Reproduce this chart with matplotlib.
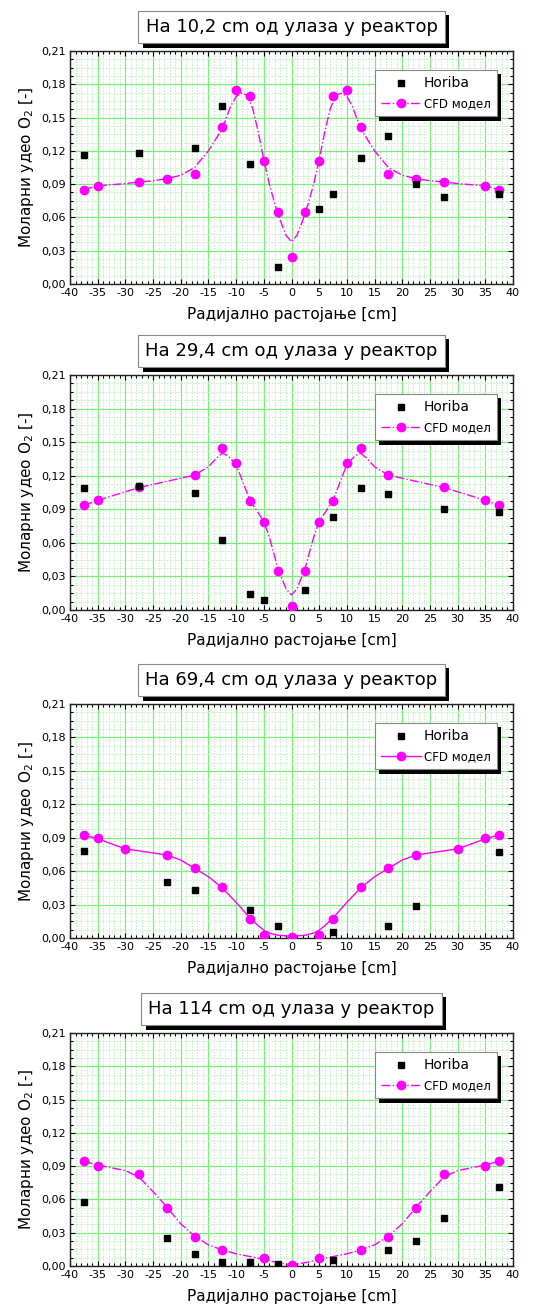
import matplotlib
matplotlib.use("Agg")
import matplotlib.pyplot as plt
from matplotlib.ticker import MultipleLocator, FuncFormatter
from matplotlib.lines import Line2D
import matplotlib.patheffects as pe

plt.rcParams['font.family'] = ['DejaVu Sans']

# ---------------- data ----------------
titles = ["На 10,2 cm од улаза у реактор", "На 29,4 cm од улаза у реактор",
          "На 69,4 cm од улаза у реактор", "На 114 cm од улаза у реактор"]

# Panel 1
p1_cfd_x = [-37.5, -35, -27.5, -22.5, -17.5, -12.5, -10, -7.5, -5, -2.5, 0, 2.5, 5, 7.5, 10, 12.5, 17.5, 22.5, 27.5, 35, 37.5]
p1_cfd_y = [0.085, 0.0885, 0.092, 0.0945, 0.0995, 0.1415, 0.1745, 0.1695, 0.1105, 0.0645, 0.0245,
            0.0645, 0.1105, 0.1695, 0.1745, 0.1415, 0.0995, 0.0945, 0.092, 0.0885, 0.085]
p1_line_x = [-37.5, -35, -30, -27.5, -25, -22.5, -20, -17.5, -15, -12.5, -11, -10, -9, -8, -7, -6, -5, -4, -3, -2, -1, 0,
             1, 2, 3, 4, 5, 6, 7, 8, 9, 10, 11, 12.5, 15, 17.5, 20, 22.5, 25, 27.5, 30, 35, 37.5]
p1_line_y = [0.085, 0.0885, 0.0905, 0.092, 0.093, 0.095, 0.098, 0.105, 0.120, 0.140, 0.160, 0.169, 0.172, 0.170, 0.158, 0.137,
             0.112, 0.090, 0.072, 0.057, 0.044, 0.038,
             0.044, 0.057, 0.072, 0.090, 0.112, 0.137, 0.158, 0.170, 0.172, 0.169, 0.160, 0.140, 0.120, 0.105, 0.098,
             0.095, 0.093, 0.092, 0.0905, 0.0885, 0.085]
p1_hor_x = [-37.5, -27.5, -17.5, -12.5, -7.5, -2.5, 5, 7.5, 12.5, 17.5, 22.5, 27.5, 37.5]
p1_hor_y = [0.116, 0.118, 0.1225, 0.160, 0.1085, 0.015, 0.0675, 0.081, 0.114, 0.133, 0.0905, 0.0785, 0.081]

# Panel 2
p2_cfd_x = [-37.5, -35, -27.5, -17.5, -12.5, -10, -7.5, -5, -2.5, 0, 2.5, 5, 7.5, 10, 12.5, 17.5, 27.5, 35, 37.5]
p2_cfd_y = [0.0935, 0.098, 0.1095, 0.1205, 0.1445, 0.1315, 0.097, 0.079, 0.035, 0.004,
            0.035, 0.079, 0.097, 0.1315, 0.1445, 0.1205, 0.1095, 0.098, 0.0935]
p2_line_x = [-37.5, -35, -27.5, -17.5, -15, -13.5, -12.5, -11.5, -10, -7.5, -5, -4, -2.5, -1, 0,
             1, 2.5, 4, 5, 7.5, 10, 11.5, 12.5, 13.5, 15, 17.5, 27.5, 35, 37.5]
p2_line_y = [0.0935, 0.098, 0.1095, 0.1205, 0.128, 0.136, 0.140, 0.138, 0.130, 0.098, 0.079, 0.065, 0.038, 0.019, 0.0135,
             0.019, 0.038, 0.065, 0.079, 0.098, 0.130, 0.138, 0.140, 0.136, 0.128, 0.1205, 0.1095, 0.098, 0.0935]
p2_hor_x = [-37.5, -27.5, -17.5, -12.5, -7.5, -5, 2.5, 7.5, 12.5, 17.5, 27.5, 37.5]
p2_hor_y = [0.109, 0.111, 0.105, 0.063, 0.0145, 0.0085, 0.0175, 0.0835, 0.109, 0.104, 0.0905, 0.088]

# Panel 3
p3_cfd_x = [-37.5, -35, -30, -22.5, -17.5, -12.5, -7.5, -5, 0, 5, 7.5, 12.5, 17.5, 22.5, 30, 35, 37.5]
p3_cfd_y = [0.0925, 0.0895, 0.080, 0.0745, 0.0625, 0.0455, 0.0175, 0.0025, 0.001,
            0.0025, 0.0175, 0.0455, 0.0625, 0.0745, 0.080, 0.0895, 0.0925]
p3_line_x = [-37.5, -35, -30, -22.5, -20, -17.5, -15, -12.5, -10, -7.5, -6, -5, -4, -2.5, 0,
             2.5, 4, 5, 6, 7.5, 10, 12.5, 15, 17.5, 20, 22.5, 30, 35, 37.5]
p3_line_y = [0.0925, 0.089, 0.080, 0.0745, 0.070, 0.0625, 0.055, 0.045, 0.032, 0.018, 0.011, 0.007, 0.0045, 0.0025, 0.0015,
             0.0025, 0.0045, 0.007, 0.011, 0.018, 0.032, 0.045, 0.055, 0.0625, 0.070, 0.0745, 0.080, 0.089, 0.0925]
p3_hor_x = [-37.5, -22.5, -17.5, -7.5, -2.5, 7.5, 17.5, 22.5, 37.5]
p3_hor_y = [0.078, 0.0505, 0.0435, 0.025, 0.011, 0.0057, 0.011, 0.029, 0.0775]

# Panel 4
p4_cfd_x = [-37.5, -35, -27.5, -22.5, -17.5, -12.5, -5, 0, 5, 12.5, 17.5, 22.5, 27.5, 35, 37.5]
p4_cfd_y = [0.0945, 0.0905, 0.0825, 0.0525, 0.026, 0.014, 0.0072, 0.0006,
            0.0072, 0.014, 0.026, 0.0525, 0.0825, 0.0905, 0.0945]
p4_line_x = [-37.5, -35, -30, -27.5, -25, -22.5, -20, -17.5, -15, -12.5, -10, -5, -2.5, 0,
             2.5, 5, 10, 12.5, 15, 17.5, 20, 22.5, 25, 27.5, 30, 35, 37.5]
p4_line_y = [0.0945, 0.091, 0.086, 0.080, 0.067, 0.053, 0.038, 0.027, 0.019, 0.0145, 0.011, 0.006, 0.003, 0.001,
             0.003, 0.006, 0.011, 0.0145, 0.019, 0.027, 0.038, 0.053, 0.067, 0.080, 0.086, 0.091, 0.0945]
p4_hor_x = [-37.5, -22.5, -17.5, -12.5, -7.5, -2.5, 7.5, 17.5, 22.5, 27.5, 37.5]
p4_hor_y = [0.058, 0.0252, 0.0105, 0.0039, 0.0036, 0.0018, 0.0051, 0.0147, 0.0225, 0.0436, 0.0715]

line_styles = ['-.', '-.', '-', '-.']

panels = [
    (p1_cfd_x, p1_cfd_y, p1_line_x, p1_line_y, p1_hor_x, p1_hor_y),
    (p2_cfd_x, p2_cfd_y, p2_line_x, p2_line_y, p2_hor_x, p2_hor_y),
    (p3_cfd_x, p3_cfd_y, p3_line_x, p3_line_y, p3_hor_x, p3_hor_y),
    (p4_cfd_x, p4_cfd_y, p4_line_x, p4_line_y, p4_hor_x, p4_hor_y),
]

# ---------------- layout ----------------
W, H = 545, 1311
fig = plt.figure(figsize=(W / 100, H / 100), dpi=100)
fig.patch.set_facecolor('white')

ax_px = [(51, 284), (375, 610), (704, 938), (1033, 1266)]
left_px, right_px = 70, 513
magenta = '#FF00FF'
px = 72 / 100  # points per pixel

fmt = FuncFormatter(lambda v, p: f"{v:.2f}".replace('.', ','))

for i, (top, bot) in enumerate(ax_px):
    ax = fig.add_axes([left_px / W, 1 - bot / H, (right_px - left_px) / W, (bot - top) / H])
    cx, cy, lx, ly, hx, hy = panels[i]
    ax.plot(lx, ly, color=magenta, lw=1.0, ls=line_styles[i], zorder=3)
    ax.plot(cx, cy, 'o', color=magenta, ms=6.0, mec=magenta, zorder=4)
    ax.plot(hx, hy, 's', color='black', ms=4.6, zorder=5)

    ax.set_xlim(-40, 40)
    ax.set_ylim(0, 0.21)
    ax.xaxis.set_major_locator(MultipleLocator(5))
    ax.xaxis.set_minor_locator(MultipleLocator(1))
    ax.yaxis.set_major_locator(MultipleLocator(0.03))
    ax.yaxis.set_minor_locator(MultipleLocator(0.0075))
    ax.yaxis.set_major_formatter(fmt)
    ax.xaxis.set_major_formatter(FuncFormatter(lambda v, p: f"{v:.0f}"))
    ax.grid(True, which='major', color='#78F078', lw=0.9, zorder=0)
    ax.grid(True, which='minor', color='#BDF2BD', lw=0.7, ls=(0, (1.5, 1.5)), zorder=0)
    ax.set_axisbelow(True)
    ax.tick_params(which='both', direction='in', top=True, right=True, width=0.8, colors='black')
    ax.tick_params(which='major', length=5 * px, labelsize=8, pad=3)
    ax.tick_params(which='minor', length=3 * px)
    for s in ax.spines.values():
        s.set_linewidth(1.0)
        s.set_color('#222222')

    ax.set_xlabel("Радијално растојање [cm]", fontsize=11, labelpad=6)
    ax.set_ylabel("Моларни удео O$_2$ [-]", fontsize=11, labelpad=4)

    # title box with black shadow
    t = ax.annotate(titles[i], xy=(0.5, 1), xycoords='axes fraction', xytext=(0, 24 * px),
                    textcoords='offset points', ha='center', va='center', fontsize=13,
                    bbox=dict(boxstyle='square,pad=0.4', fc='white', ec='#888888', lw=0.8))
    t.get_bbox_patch().set_path_effects([
        pe.SimplePatchShadow(offset=(3.2, -3.2), shadow_rgbFace='black', alpha=1.0),
        pe.Normal()])

    # legend
    h1 = Line2D([], [], ls='none', marker='s', color='black', ms=4.6)
    h2 = Line2D([], [], ls=line_styles[i], color=magenta, lw=1.0, marker='o', ms=6.0, mec=magenta)
    leg = ax.legend([h1, h2], ["Horiba", "CFD модел"], loc='upper right',
                    bbox_to_anchor=((497 - left_px) / (right_px - left_px), 1 - 19 / (bot - top)),
                    borderaxespad=0, fontsize=8.5, handlelength=3.4, handletextpad=0.2,
                    borderpad=0.55, labelspacing=0.55, fancybox=False, framealpha=1, edgecolor='#888888')
    leg.get_texts()[0].set_fontsize(10)
    leg.get_frame().set_linewidth(0.8)
    leg.get_frame().set_path_effects([
        pe.SimplePatchShadow(offset=(3.2, -3.2), shadow_rgbFace='black', alpha=1.0),
        pe.Normal()])
    leg.set_zorder(10)

fig.savefig('out.png', dpi=100, facecolor='white')
